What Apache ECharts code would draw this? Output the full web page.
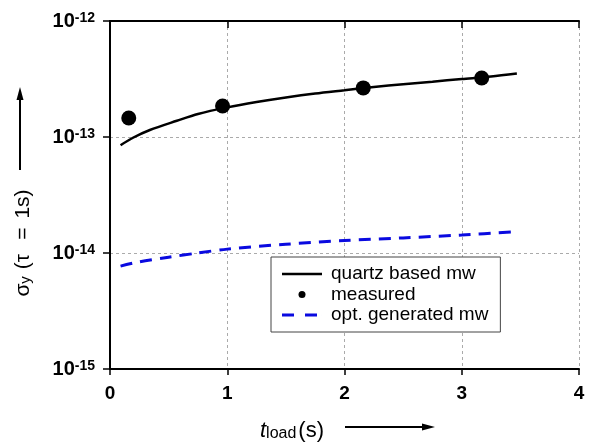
<!DOCTYPE html>
<html><head><meta charset="utf-8">
<script src="https://cdn.jsdelivr.net/npm/echarts@6/dist/echarts.min.js"></script>
<style>html,body{margin:0;padding:0;background:#fff}#c{width:595px;height:443px}</style>
</head><body><div id="c"></div>
<script>
// quartz based mw (solid black curve)
const quartzX = [0.09, 0.2, 0.34, 0.57, 0.75, 1.0, 1.25, 1.5, 1.75, 2.0, 2.25, 2.5, 2.75, 3.0, 3.25, 3.47];
const quartzY = [8.5e-14, 9.9e-14, 1.15e-13, 1.38e-13, 1.58e-13, 1.8e-13, 2.0e-13, 2.19e-13, 2.37e-13, 2.53e-13, 2.7e-13, 2.85e-13, 3.0e-13, 3.16e-13, 3.32e-13, 3.52e-13];
// measured points
const measuredX = [0.16, 0.96, 2.16, 3.17];
const measuredY = [1.46e-13, 1.85e-13, 2.65e-13, 3.23e-13];
// opt. generated mw (dashed blue curve)
const optX = [0.09, 0.25, 0.5, 0.75, 1.0, 1.5, 2.0, 2.5, 3.0, 3.44];
const optY = [7.7e-15, 8.4e-15, 9.2e-15, 1.0e-14, 1.08e-14, 1.19e-14, 1.28e-14, 1.35e-14, 1.43e-14, 1.52e-14];
// axis ticks
const xTicks = [0, 1, 2, 3, 4];
const yExponents = [-15, -14, -13, -12];
const seriesNames = ['quartz based mw', 'measured', 'opt. generated mw'];

const FONT = 'Liberation Sans, Arial, Helvetica, sans-serif';
const BLUE = '#0a0ae0';
const pairs = (xs, ys) => xs.map((x, i) => [x, ys[i]]);

const chart = echarts.init(document.getElementById('c'), null, {renderer: 'canvas'});
const yMin = Math.pow(10, yExponents[0]);
const yMax = Math.pow(10, yExponents[yExponents.length - 1]);

const option = {
  backgroundColor: '#fff',
  animation: false,
  grid: {left: 110, top: 21, right: 16, bottom: 74, containLabel: false},
  xAxis: [{
    type: 'value', min: xTicks[0], max: xTicks[xTicks.length - 1], interval: 1,
    axisLine: {show: true, lineStyle: {color: '#000', width: 2}},
    axisTick: {show: true, inside: false, length: 6, lineStyle: {color: '#000', width: 1.5}},
    axisLabel: {color: '#000', fontSize: 19, fontWeight: 'bold', fontFamily: FONT, margin: 15},
    splitLine: {show: true, lineStyle: {color: '#aaa', type: [3, 3], width: 1}}
  }, {
    type: 'value', position: 'top', min: xTicks[0], max: xTicks[xTicks.length - 1], interval: 1,
    axisLine: {show: true, lineStyle: {color: '#000', width: 2}},
    axisTick: {show: true, inside: true, length: 7, lineStyle: {color: '#000', width: 1.5}},
    axisLabel: {show: false}, splitLine: {show: false}
  }],
  yAxis: [{
    type: 'log', logBase: 10, min: yMin, max: yMax, splitNumber: 3,
    axisLine: {show: true, lineStyle: {color: '#000', width: 2}},
    axisTick: {show: true, inside: false, length: 7, lineStyle: {color: '#000', width: 1.5}},
    minorTick: {show: false},
    axisLabel: {
      margin: 15,
      formatter: v => '{b|10}{s|' + Math.round(Math.log10(v)) + '}',
      rich: {
        b: {fontSize: 20, fontWeight: 'bold', fontFamily: FONT, color: '#000', lineHeight: 20, verticalAlign: 'bottom'},
        s: {fontSize: 14, fontWeight: 'bold', fontFamily: FONT, color: '#000', lineHeight: 14, verticalAlign: 'top', padding: [0, 0, 12, 0]}
      }
    },
    splitLine: {show: true, lineStyle: {color: '#aaa', type: [3, 3], width: 1}}
  }, {
    type: 'log', logBase: 10, min: yMin, max: yMax, splitNumber: 3, position: 'right',
    axisLine: {show: true, lineStyle: {color: '#000', width: 2}},
    axisTick: {show: true, inside: true, length: 6, lineStyle: {color: '#000', width: 1.5}},
    axisLabel: {show: false}, splitLine: {show: false}, minorTick: {show: false}
  }],
  legend: {
    orient: 'vertical', left: 271, top: 257,
    padding: [7.5, 12, 7.5, 11],
    backgroundColor: '#fff', borderColor: '#444', borderWidth: 1,
    itemWidth: 40, itemHeight: 7, itemGap: 1.5,
    selectedMode: false,
    textStyle: {fontSize: 19, fontFamily: FONT, color: '#000', padding: [0, 0, 0, 4]},
    data: [
      {name: seriesNames[0], icon: 'path://M0,0H40V2.5H0Z', itemStyle: {color: '#000'}},
      {name: seriesNames[1], icon: 'circle', itemStyle: {color: '#000'}},
      {name: seriesNames[2], icon: 'path://M0,0H12V3H0ZM23,0H35V3H23ZM40,0L40,3L39.99,3Z', itemStyle: {color: BLUE}}
    ]
  },
  series: [{
    name: seriesNames[0], type: 'line', data: pairs(quartzX, quartzY),
    smooth: 0.3, symbol: 'none', lineStyle: {color: '#000', width: 2.5}, itemStyle: {color: '#000'}, z: 3
  }, {
    name: seriesNames[1], type: 'scatter', data: pairs(measuredX, measuredY),
    symbol: 'circle', symbolSize: 15, itemStyle: {color: '#000', opacity: 1}, z: 4
  }, {
    name: seriesNames[2], type: 'line', data: pairs(optX, optY),
    smooth: 0.3, symbol: 'none', lineStyle: {color: BLUE, width: 3, type: [12, 8]}, itemStyle: {color: BLUE}, z: 3
  }],
  graphic: [
    {
      type: 'text', x: 23, y: 243, rotation: Math.PI / 2,
      style: {
        text: '{a|σ}{sub|y}{a|(τ}{eq|=}{one|1s)}', align: 'center', verticalAlign: 'middle',
        rich: {
          a: {fontSize: 21, fontFamily: FONT, fill: '#000', color: '#000', lineHeight: 21, verticalAlign: 'top'},
          sub: {fontSize: 15, fontFamily: FONT, fill: '#000', color: '#000', lineHeight: 15, verticalAlign: 'bottom', padding: [8, 7, 0, 0]},
          eq: {fontSize: 21, fontFamily: FONT, fill: '#000', color: '#000', lineHeight: 21, verticalAlign: 'top', padding: [0, 0, 0, 14]},
          one: {fontSize: 21, fontFamily: FONT, fill: '#000', color: '#000', lineHeight: 21, verticalAlign: 'top', padding: [0, 0, 0, 9]}
        }
      }
    },
    {type: 'line', shape: {x1: 20, y1: 170, x2: 20, y2: 98}, style: {stroke: '#000', lineWidth: 2}},
    {type: 'polygon', shape: {points: [[20, 87], [16.5, 100], [23.5, 100]]}, style: {fill: '#000'}},
    {
      type: 'text', x: 292, y: 431,
      style: {
        text: '{it|t}{sub|load}{a|(s)}', align: 'center', verticalAlign: 'middle',
        rich: {
          it: {fontSize: 22, fontStyle: 'italic', fontFamily: FONT, fill: '#000', color: '#000', lineHeight: 22, verticalAlign: 'top'},
          sub: {fontSize: 16, fontFamily: FONT, fill: '#000', color: '#000', lineHeight: 16, verticalAlign: 'bottom', padding: [8, 2, 0, 0]},
          a: {fontSize: 22, fontFamily: FONT, fill: '#000', color: '#000', lineHeight: 22, verticalAlign: 'top'}
        }
      }
    },
    {type: 'line', shape: {x1: 345, y1: 427, x2: 424, y2: 427}, style: {stroke: '#000', lineWidth: 2}},
    {type: 'polygon', shape: {points: [[435, 427], [422, 423.5], [422, 430.5]]}, style: {fill: '#000'}}
  ]
};
chart.setOption(option);
</script>
</body></html>
